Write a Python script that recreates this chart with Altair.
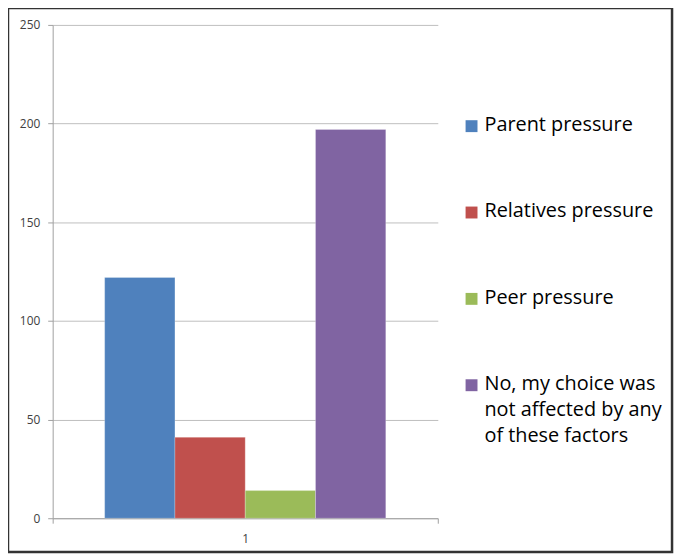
import altair as alt
import pandas as pd

categories = ["1"]
series = ["Parent pressure", "Relatives pressure", "Peer pressure",
          "No, my choice was not affected by any of these factors"]
values = [122, 41, 14, 197]
colors = ["#4F81BD", "#C0504D", "#9BBB59", "#8064A2"]
y_ticks = [0, 50, 100, 150, 200, 250]

df = pd.DataFrame({"cat": categories * len(series), "series": series, "value": values})

W, H = 388, 497
FONT = "Open Sans"
DY = -11

bars = alt.Chart(df).mark_bar(stroke="#ffffff", strokeOpacity=0.3, strokeWidth=0.8).encode(
    x=alt.X("cat:N", title=None,
            scale=alt.Scale(paddingInner=0, paddingOuter=0),
            axis=alt.Axis(labelAngle=0, labelFont=FONT, labelFontSize=12, labelColor="#404040",
                          domainColor="#A0A0A0", tickColor="#A0A0A0", tickBand="extent",
                          tickSize=5, labelPadding=10 - DY, grid=False)),
    xOffset=alt.XOffset("series:N", sort=series,
                        scale=alt.Scale(paddingInner=0, paddingOuter=0.74)),
    y=alt.Y("value:Q", title=None,
            scale=alt.Scale(domain=[0, 250], nice=False),
            axis=alt.Axis(values=y_ticks, labelFont=FONT, labelFontSize=12, labelColor="#404040",
                          domainColor="#A0A0A0", tickColor="#A0A0A0", tickSize=5,
                          labelOffset=-DY,
                          labelPadding=8, gridColor="#BEBEBE", gridWidth=1)),
    color=alt.Color("series:N", sort=series,
                    scale=alt.Scale(domain=series, range=colors),
                    legend=alt.Legend(
                        title=None, orient="none", legendX=412, legendY=92,
                        direction="vertical", symbolType="square", symbolSize=144,
                        symbolStrokeWidth=0, labelFont=FONT, labelFontSize=20,
                        labelColor="#000000", rowPadding=67, labelOffset=3,
                        labelLimit=300, labelBaseline="top",
                        labelExpr="datum.label == 'No, my choice was not affected by any of these factors' ? ['No, my choice was', 'not affected by any', 'of these factors'] : datum.label")),
)

border = alt.Chart(pd.DataFrame({"a": [0]})).mark_rect(
    fill=None, stroke="#333333", strokeWidth=2.5
).encode(x=alt.value(-45), x2=alt.value(624), y=alt.value(-17), y2=alt.value(531))

chart = alt.layer(border, bars).properties(
    width=W, height=H,
    autosize=alt.AutoSizeParams(type="none"),
    padding={"left": 45, "top": 15, "right": 241, "bottom": 35},
).configure(
    style={"guide-label": {"dy": DY, "lineHeight": 26}},
    view=alt.ViewConfig(stroke=None),
)

chart.save("out.html", embed_options={"renderer": "svg", "actions": False})
